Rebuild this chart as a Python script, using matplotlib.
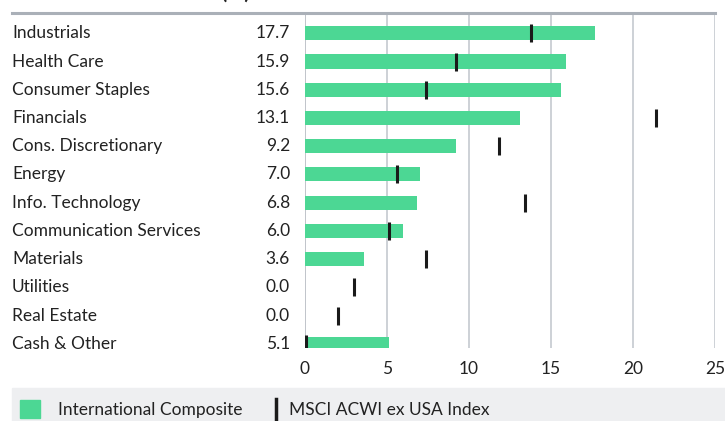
import matplotlib.pyplot as plt
from matplotlib.patches import Rectangle
from matplotlib.transforms import blended_transform_factory

sectors = ["Industrials", "Health Care", "Consumer Staples", "Financials",
           "Cons. Discretionary", "Energy", "Info. Technology",
           "Communication Services", "Materials", "Utilities", "Real Estate",
           "Cash & Other"]
composite = [17.7, 15.9, 15.6, 13.1, 9.2, 7.0, 6.8, 6.0, 3.6, 0.0, 0.0, 5.1]
benchmark = [13.8, 9.2, 7.4, 21.4, 11.8, 5.6, 13.4, 5.1, 7.4, 3.0, 2.0, 0.06]
ticks = [0, 5, 10, 15, 20, 25]

green = "#4cd794"
plt.rcParams["font.family"] = ["Lato", "DejaVu Sans"]
fs = 12.5

fig = plt.figure(figsize=(7.25, 4.21), dpi=100)
W, H = 725, 421
ax = fig.add_axes([305 / W, 1 - 348 / H, 410 / W, (348 - 13) / H])

y = list(range(len(sectors)))
ax.barh(y, composite, height=0.5, color=green, zorder=2)
ax.vlines(benchmark, [v - 0.32 for v in y], [v + 0.32 for v in y],
          color="#1a1a1a", lw=2.2, zorder=3)

ax.set_xlim(0, 25)
ax.set_ylim(11.15, -0.72)
ax.set_xticks(ticks)
ax.set_xticklabels([str(t) for t in ticks], fontsize=fs, color="#222222")
ax.set_yticks([])
ax.tick_params(axis="x", length=0, pad=9)
for t in ticks[1:]:
    ax.axvline(t, color="#c5c9cf", lw=1.2, zorder=1)
for s in ax.spines.values():
    s.set_visible(False)
ax.axvline(0, color="#b5bac1", lw=1.2, zorder=1)

# labels and values on the left
tr = blended_transform_factory(fig.transFigure, ax.transData)
for i, (name, val) in enumerate(zip(sectors, composite)):
    ax.text(12 / W, i, name, transform=tr, ha="left", va="center",
            fontsize=fs, color="#222222")
    ax.text(290 / W, i, f"{val:.1f}", transform=tr, ha="right", va="center",
            fontsize=fs, color="#222222")

# top rule and title (sits above the visible area, only the bracket tails show)
fig.add_artist(plt.Line2D([12 / W, 715 / W], [1 - 13 / H, 1 - 13 / H],
                          color="#aab0b8", lw=2.2))
fig.text(250 / W, 1 + 1 / H, "Sector Allocation (%)", ha="right", va="baseline",
         fontsize=15, fontweight="bold", color="#222222")

# legend band
fig.add_artist(Rectangle((12 / W, 0), 713 / W, 33 / H, color="#eeeff1",
                         transform=fig.transFigure, zorder=0))
fig.add_artist(Rectangle((20 / W, 3 / H), 20 / W, 18 / H, color=green,
                         transform=fig.transFigure))
fig.text(58 / W, 11 / H, "International Composite", ha="left", va="center",
         fontsize=fs, color="#222222")
fig.add_artist(plt.Line2D([275.5 / W, 275.5 / W], [2 / H, 22 / H],
                          color="#1a1a1a", lw=2.5))
fig.text(289 / W, 11 / H, "MSCI ACWI ex USA Index", ha="left", va="center",
         fontsize=fs, color="#222222")

fig.savefig("out.png", dpi=100)
